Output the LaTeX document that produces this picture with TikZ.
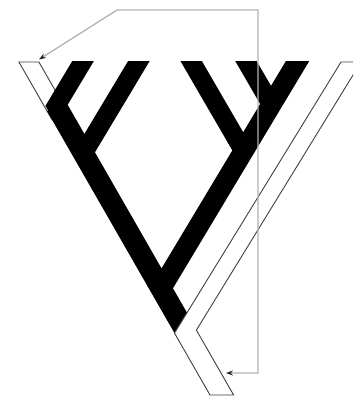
\documentclass[tikz,border=0pt]{standalone}
\usetikzlibrary{arrows.meta}

\begin{document}
\begin{tikzpicture}[x=1pt, y=-1pt,
    >={Stealth[length=7pt, width=5pt, color=black!85]},
    branch/.style={line width=18.5pt, line join=miter},
    stem/.style={line width=21pt},
    ghost/.style={fill=white, draw=black!75, line width=0.9pt, line join=miter},
    link/.style={draw=black!30, line width=1.3pt}]
    \useasboundingbox (0,0) rectangle (353,398);
    \clip (0,0) rectangle (353,398);
    % Tree points
    \coordinate (a) at (88.5,52);
    \coordinate (b) at (144.3,52);
    \coordinate (c) at (185.9,52);
    \coordinate (d) at (240.7,52);
    \coordinate (e) at (303,52);
    \coordinate (j1) at (56.2,105.9);
    \coordinate (j2) at (83.5,153.4);
    \coordinate (f) at (271.3,104.8);
    \coordinate (jce) at (243.5,151.2);
    \coordinate (root) at (161.1,288.6);
    \coordinate (s) at (185.6,331.4);
    % Lost lineage, upper left
    \draw[ghost] (18.9,62) -- (38.9,62) -- (72.2,120) -- (52.2,120) -- cycle;
    % Tree
    \begin{scope}
        \clip (0,62) rectangle (353,398);
        \draw[branch] (a) -- (j1) -- (s);
        \draw[stem] (j1) -- (s);
        \draw[branch] (b) -- (j2);
        \draw[branch, line width=20pt] (e) -- (f) -- (jce) -- (root);
        \draw[branch] (d) -- (f);
        \draw[branch] (c) -- (jce);
    \end{scope}
    % Lost lineage, lower right
    \draw[ghost] (341,62) -- (361,62) -- (196.4,330.1) -- (233.6,395)
        -- (210,395) -- (174.5,333.1) -- cycle;
    % Link
    \coordinate (tipa) at (39,59.5);
    \coordinate (knee) at (117,10);
    \coordinate (top) at (258,10);
    \coordinate (bot) at (258,373);
    \coordinate (tipb) at (226,373);
    \draw[link, <->] (tipb) -- (bot) -- (top) -- (knee) -- (tipa);
\end{tikzpicture}
\end{document}
